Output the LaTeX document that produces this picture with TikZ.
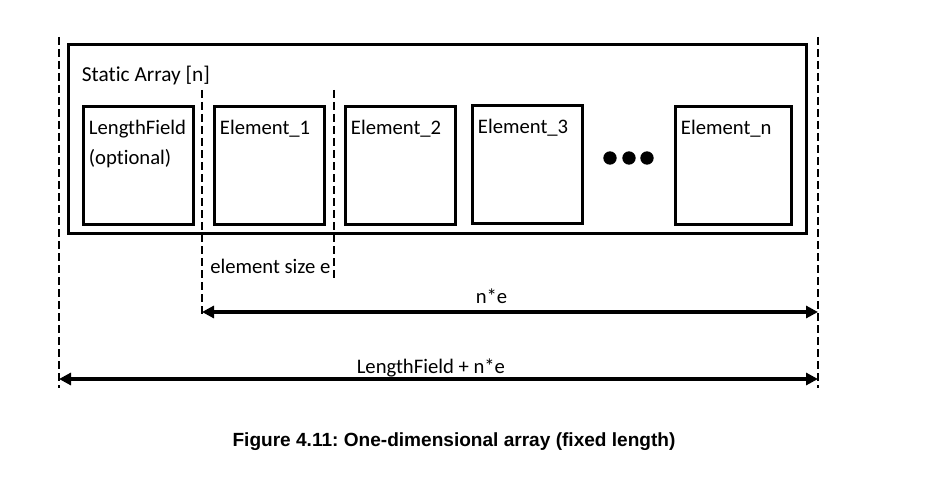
\documentclass[tikz,border=0pt]{standalone}
\usepackage{fontspec}
\setmainfont{Carlito}[Ligatures=NoCommon]
\newfontfamily\capfont{Liberation Sans}
\usetikzlibrary{arrows.meta}
\usetikzlibrary{calc}

\newcommand\txtfont{\fontsize{15.5}{23}\selectfont}

\begin{document}
\frenchspacing
\begin{tikzpicture}[
    x=0.75pt, y=-0.75pt,
    >={Triangle[length=9pt, width=9pt]},
    % Styles for the parts of the array
    arraybox/.style={rectangle, draw=black, line width=2pt, anchor=north west, inner sep=0pt,
        minimum width=553.5pt, minimum height=141.75pt},
    elem/.style={rectangle, draw=black, line width=2.2pt, anchor=north west, inner sep=0pt,
        minimum width=82.5pt, minimum height=88.5pt},
    lbl/.style={anchor=north west, inner sep=0pt, xshift=5pt, yshift=-11pt, align=left, font=\txtfont},
    txt/.style={inner sep=0pt, font=\txtfont},
    guide/.style={line width=1.6pt, dash pattern=on 6pt off 3pt},
    dimline/.style={<->, line width=2.3pt},
    dot/.style={circle, fill=black, minimum size=10pt, inner sep=0pt}
]
    \useasboundingbox (0,0) rectangle (937,481);

    % =========================================================================
    % 1. THE STATIC ARRAY AND ITS FIELDS
    % =========================================================================
    \node[arraybox, label={[lbl, font=\fontsize{16}{23}\selectfont, xshift=6pt, yshift=-6pt]north west:{Static Array [n]}}] (arr) at (67,43) {};

    \node[elem, label={[lbl]north west:{LengthField\\(optional)}}] (lenf) at (82,105) {};
    \node[elem, label={[lbl]north west:{Element\_1}}] (el1) at (213,105) {};
    \node[elem, label={[lbl]north west:{Element\_2}}] (el2) at (344,105) {};
    \node[elem, label={[lbl]north west:{Element\_3}}] (el3) at (471,104) {};
    \node[elem, minimum width=87pt, label={[lbl]north west:{Element\_n}}] (eln) at (674,105) {};

    % The dots between Element_3 and Element_n
    \foreach \x in {610,629,647}
        \node[dot] (dot\x) at (\x,158) {};

    % =========================================================================
    % 2. DASHED GUIDE LINES
    % =========================================================================
    \coordinate (lt) at (59,37);   \coordinate (lb) at (59,388);
    \coordinate (at) at (202,90);  \coordinate (ab) at (202,316);
    \coordinate (bt) at (334,90);  \coordinate (bb) at (334,280);
    \coordinate (rt) at (818,37);  \coordinate (rb) at (818,388);

    \draw[guide] (lt) -- (lb);
    \draw[guide] (at) -- (ab);
    \draw[guide] (bt) -- (bb);
    \draw[guide] (rt) -- (rb);

    \node[txt, anchor=base west] (esize) at (210,273) {element size e};

    % =========================================================================
    % 3. SIZE ARROWS
    % =========================================================================
    \coordinate (neL) at (202,312);  \coordinate (neR) at (818,312);
    \coordinate (totL) at (59,379);  \coordinate (totR) at (818,379);

    \draw[dimline] (neL) -- (neR)
        node[txt, pos=0.47, anchor=base, yshift=6.75pt] (nelbl) {n*e};
    \draw[dimline] (totL) -- (totR)
        node[txt, pos=0.49, anchor=base, yshift=4.5pt] (totlbl) {LengthField + n*e};

    % Caption
    \node[font=\capfont\bfseries\fontsize{14.3}{17}\selectfont] (cap) at (454,442)
        {Figure 4.11: One-dimensional array (fixed length)};

\end{tikzpicture}
\end{document}
